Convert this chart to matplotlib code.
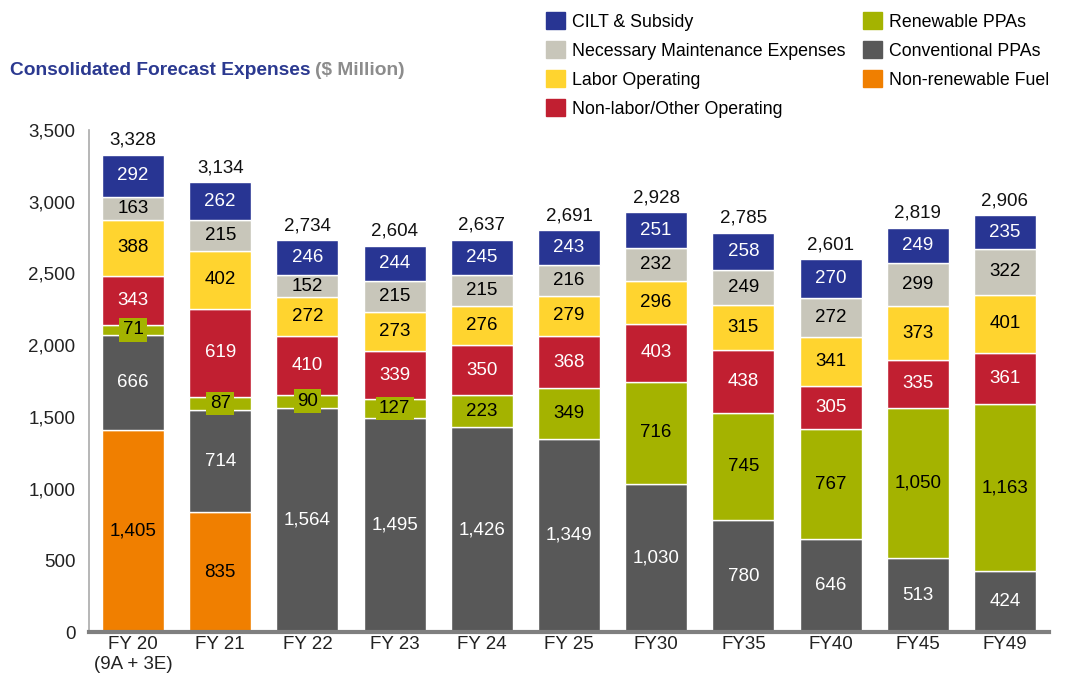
import matplotlib
matplotlib.use("Agg")
import matplotlib.pyplot as plt
from matplotlib.patches import Patch

plt.rcParams['font.family'] = ['Liberation Sans', 'DejaVu Sans']

categories = ["FY 20\n(9A + 3E)", "FY 21", "FY 22", "FY 23", "FY 24", "FY 25",
              "FY30", "FY35", "FY40", "FY45", "FY49"]
fuel = [1405, 835, 0, 0, 0, 0, 0, 0, 0, 0, 0]
conventional = [666, 714, 1564, 1495, 1426, 1349, 1030, 780, 646, 513, 424]
renewable = [71, 87, 90, 127, 223, 349, 716, 745, 767, 1050, 1163]
nonlabor = [343, 619, 410, 339, 350, 368, 403, 438, 305, 335, 361]
labor = [388, 402, 272, 273, 276, 279, 296, 315, 341, 373, 401]
maintenance = [163, 215, 152, 215, 215, 216, 232, 249, 272, 299, 322]
cilt = [292, 262, 246, 244, 245, 243, 251, 258, 270, 249, 235]
totals = ["3,328", "3,134", "2,734", "2,604", "2,637", "2,691",
          "2,928", "2,785", "2,601", "2,819", "2,906"]
yticks = [0, 500, 1000, 1500, 2000, 2500, 3000, 3500]

series = [
    ("Non-renewable Fuel", fuel, "#F07F00", "black"),
    ("Conventional PPAs", conventional, "#585858", "white"),
    ("Renewable PPAs", renewable, "#A4B300", "black"),
    ("Non-labor/Other Operating", nonlabor, "#C11F31", "white"),
    ("Labor Operating", labor, "#FFD42F", "black"),
    ("Necessary Maintenance Expenses", maintenance, "#C8C6BA", "black"),
    ("CILT & Subsidy", cilt, "#283593", "white"),
]

FS = 13.5

fig = plt.figure(figsize=(10.81, 6.84), dpi=100)
ax = fig.add_axes([0.0827, 0.076, 0.8873, 0.734])

x = list(range(len(categories)))
bottoms = [0.0] * len(categories)
width = 0.71
handles = {}
for name, vals, color, tcolor in series:
    ax.bar(x, vals, width, bottom=bottoms, color=color,
           edgecolor="white", linewidth=1.0, zorder=2)
    handles[name] = Patch(facecolor=color, edgecolor=color)
    for i, v in enumerate(vals):
        if v <= 0:
            continue
        yc = bottoms[i] + v / 2
        label = f"{v:,}"
        if v < 150:
            ax.text(i, yc, label, ha="center", va="center", fontsize=FS,
                    color="black", zorder=4,
                    bbox=dict(boxstyle="square,pad=0.18", facecolor=color,
                              edgecolor="none"))
        else:
            ax.text(i, yc, label, ha="center", va="center", fontsize=FS,
                    color=tcolor, zorder=4)
    bottoms = [b + v for b, v in zip(bottoms, vals)]

for i, t in enumerate(totals):
    ax.text(i, bottoms[i] + 40, t, ha="center", va="bottom", fontsize=FS,
            color="#111111", clip_on=False)

ax.set_xlim(-0.5, 10.5)
ax.set_ylim(0, 3500)
ax.set_yticks(yticks)
ax.set_yticklabels([f"{v:,}" for v in yticks], fontsize=FS, color="#222222")
ax.set_xticks(x)
ax.set_xticklabels(categories, fontsize=FS, color="#222222")
ax.tick_params(axis="both", length=0)
ax.tick_params(axis="y", pad=10)
ax.tick_params(axis="x", pad=3)
for s in ["top", "right"]:
    ax.spines[s].set_visible(False)
ax.spines["left"].set_color("#AAAAAA")
ax.spines["left"].set_linewidth(1.2)
ax.spines["bottom"].set_color("#7F7F7F")
ax.spines["bottom"].set_linewidth(3)
ax.spines["bottom"].set_zorder(3)

# Title
t1 = fig.text(0.009, 0.897, "Consolidated Forecast Expenses", fontsize=13.8,
              fontweight="bold", color="#2B3990", ha="left", va="center")
fig.canvas.draw()
bb = t1.get_window_extent()
fig.text(bb.x1 / fig.bbox.width + 0.004, 0.897, "($ Million)", fontsize=13.8,
         fontweight="bold", color="#8C8C8C", ha="left", va="center")

order = ["CILT & Subsidy", "Necessary Maintenance Expenses", "Labor Operating",
         "Non-labor/Other Operating", "Renewable PPAs", "Conventional PPAs",
         "Non-renewable Fuel"]
fig.legend([handles[n] for n in order], order, ncol=2, loc="upper left",
           bbox_to_anchor=(0.494, 1.0), frameon=False, fontsize=12.8,
           handlelength=1.05, handleheight=1.05, handletextpad=0.38,
           columnspacing=1.0, labelspacing=0.6, borderaxespad=0.3)

fig.savefig("out.png", dpi=100)
